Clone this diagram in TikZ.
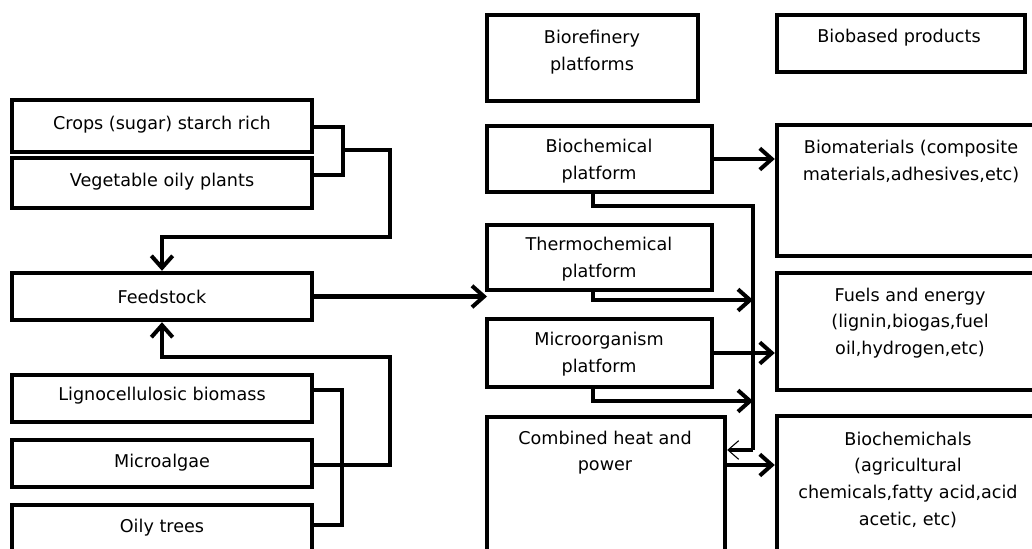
\documentclass[tikz,border=0pt]{standalone}
\usepackage{fontspec}
\setmainfont{DejaVu Sans}
\usetikzlibrary{arrows.meta,fit}
\begin{document}
\begin{tikzpicture}[x=0.75pt,y=-0.75pt,
  box/.style={draw=black, line width=3.3pt, inner sep=0pt, rectangle},
  txt/.style={font=\fontsize{13.2}{20}\selectfont, align=center, inner sep=0pt, text=black},
  conn/.style={line width=3.3pt, line join=miter},
  arr/.style={conn, -{Straight Barb[length=9pt,width=16pt,line width=3pt]}},
  thinarr/.style={conn, -{Straight Barb[length=8pt,width=14pt,line width=0.8pt]}}]
\clip (0,0) rectangle (1032,549);
\fill[white] (0,0) rectangle (1032,549);
% left column
\node[box, fit={(12,100) (312,152)}] (crops) {};
\node[box, fit={(12,158) (312,208)}] (veg) {};
\node[box, fit={(12,273) (312,320)}] (feed) {};
\node[box, fit={(12,375) (312,422)}] (lign) {};
\node[box, fit={(12,440) (312,487)}] (micro) {};
\node[box, fit={(12,505) (312,600)}] (oily) {};
\node[txt] (cropsT) at (162,125) {Crops (sugar) starch rich};
\node[txt] (vegT) at (162,182) {Vegetable oily plants};
\node[txt] (feedT) at (162,297) {Feedstock};
\node[txt] (lignT) at (162,396) {Lignocellulosic biomass};
\node[txt] (microT) at (162,463) {Microalgae};
\node[txt] (oilyT) at (162,528) {Oily trees};
% middle column
\node[box, fit={(487,15) (698,101)}] (bioref) {};
\node[box, fit={(487,126) (712,192)}] (biochem) {};
\node[box, fit={(487,225) (712,290)}] (thermo) {};
\node[box, fit={(487,319) (712,387)}] (microorg) {};
\node[box, fit={(487,417) (725,600)}] (chp) {};
\node[txt] (biorefT) at (592,52) {Biorefinery\\platforms};
\node[txt] (biochemT) at (599,161) {Biochemical\\platform};
\node[txt] (thermoT) at (599,259) {Thermochemical\\platform};
\node[txt] (microorgT) at (599,354) {Microorganism\\platform};
\node[txt] (chpT) at (605,452.5) {Combined heat and\\power};
% right column
\node[box, fit={(777,15) (1025,72)}] (biobased) {};
\node[box, fit={(777,125) (1045,256)}] (biomat) {};
\node[box, fit={(777,273) (1045,390)}] (fuels) {};
\node[box, fit={(777,416) (1045,600)}] (biochm) {};
\node[txt] (biobasedT) at (899,38) {Biobased products};
\node[txt] (biomatT) at (911,161.5) {Biomaterials (composite\\materials,adhesives,etc)};
\node[txt] (fuelsT) at (910,323) {Fuels and energy\\(lignin,biogas,fuel\\oil,hydrogen,etc)};
\node[txt] (biochmT) at (908,479.5) {Biochemichals\\(agricultural\\chemicals,fatty acid,acid\\acetic, etc)};
% left connectors
\coordinate (v1) at (343,127);
\coordinate (v2) at (343,175);
\coordinate (m1) at (343,150);
\coordinate (r1) at (390,150);
\coordinate (r2) at (390,237);
\coordinate (r3) at (390,465);
\coordinate (r4) at (390,357);
\coordinate (l1) at (342,390);
\coordinate (l2) at (342,525);
\draw[conn] (crops.east |- v1) -- (v1) -- (v2) -- (veg.east |- v2);
\draw[arr] (m1) -- (r1) -- (r2) -- (r2 -| feed.north) -- (feed.north);
\draw[arr] (micro.east |- r3) -- (r3) -- (r4) -- (r4 -| feed.south) -- (feed.south);
\draw[conn] (lign.east |- l1) -- (l1) -- (l2) -- (oily.east |- l2);
% feedstock to platforms
\coordinate (platIn) at (487,298);
\draw[arr] (feed.east) -- (feed.east -| platIn);
% platform connectors
\coordinate (bx) at (593,0);
\coordinate (busTop) at (753,206);
\coordinate (busBot) at (753,450);
\coordinate (t1) at (593,300);
\coordinate (t2) at (593,401);
\coordinate (c1) at (0,465);
\draw[arr] (biochem.east) -- (biochem.east -| biomat.west);
\draw[conn] (biochem.south -| bx) -- (bx |- busTop) -- (busTop) -- (busBot);
\draw[thinarr] (busBot) -- (busBot -| chp.east);
\draw[arr] (thermo.south -| t1) -- (t1) -- (t1 -| busTop);
\draw[arr] (microorg.south -| t2) -- (t2) -- (t2 -| busTop);
\draw[arr] (microorg.east) -- (microorg.east -| fuels.west);
\draw[arr] (chp.east |- c1) -- (c1 -| biochm.west);
\end{tikzpicture}
\end{document}
